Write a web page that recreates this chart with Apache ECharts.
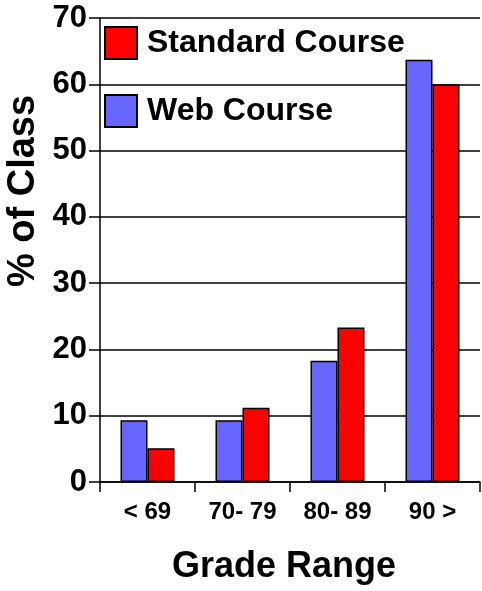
<!DOCTYPE html>
<html>
<head>
<meta charset="utf-8">
<script src="https://cdn.jsdelivr.net/npm/echarts@6/dist/echarts.min.js"></script>
<style>
html,body{margin:0;padding:0;background:#fff;}
#chart{width:482px;height:591px;}
</style>
</head>
<body>
<div id="chart"></div>
<script>
var categories = ['< 69', '70- 79', '80- 89', '90 >'];
var webCourse = [9.3, 9.3, 18.3, 63.7];
var standardCourse = [5.1, 11.2, 23.3, 60];
var yTicks = [0, 10, 20, 30, 40, 50, 60, 70];
var seriesNames = ['Web Course', 'Standard Course'];
var legendOrder = ['Standard Course', 'Web Course'];
var xAxisTitle = 'Grade Range';
var yAxisTitle = '% of Class';

var FONT = '"Liberation Sans", Arial, sans-serif';
var chart = echarts.init(document.getElementById('chart'), null, {renderer: 'canvas'});
chart.setOption({
  animation: false,
  backgroundColor: '#fff',
  grid: {left: 100, right: 2, top: 18, bottom: 109, containLabel: false},
  legend: {
    data: legendOrder,
    orient: 'vertical',
    left: 104,
    top: 26,
    padding: 0,
    icon: 'rect',
    itemWidth: 32,
    itemHeight: 32,
    itemGap: 34,
    textStyle: {fontFamily: FONT, fontWeight: 'bold', fontSize: 32, color: '#000', padding: [0, 0, 0, 5]}
  },
  xAxis: {
    type: 'category',
    data: categories,
    name: xAxisTitle,
    nameLocation: 'middle',
    nameGap: 67,
    nameTextStyle: {fontFamily: FONT, fontWeight: 'bold', fontSize: 36, color: '#000', padding: [0, 12, 0, 0]},
    axisLine: {lineStyle: {color: '#000', width: 1.5}},
    axisTick: {show: true, length: 10, lineStyle: {color: '#000', width: 1.5}},
    axisLabel: {fontFamily: FONT, fontWeight: 'bold', fontSize: 24, color: '#000', margin: 18}
  },
  yAxis: {
    type: 'value',
    min: 0,
    max: 70,
    interval: 10,
    axisLine: {show: true, lineStyle: {color: '#000', width: 1.5}},
    axisTick: {show: true, length: 11, lineStyle: {color: '#000', width: 1.5}},
    axisLabel: {fontFamily: FONT, fontWeight: 'bold', fontSize: 31, color: '#000', margin: 13,
      formatter: function (v) { return yTicks.indexOf(v) >= 0 ? String(v) : ''; }},
    splitLine: {show: true, lineStyle: {color: '#000', width: 1.5}}
  },
  graphic: [{
    type: 'text',
    x: 24,
    y: 191,
    rotation: Math.PI / 2,
    style: {
      text: yAxisTitle,
      fontFamily: FONT,
      fontWeight: 'bold',
      fontSize: 38,
      fill: '#000',
      align: 'center',
      verticalAlign: 'middle'
    }
  }],
  series: [
    {
      name: seriesNames[0],
      type: 'bar',
      data: webCourse,
      barWidth: 27,
      barGap: '0%',
      itemStyle: {color: '#6666FF', borderColor: '#000', borderWidth: 1.5}
    },
    {
      name: seriesNames[1],
      type: 'bar',
      data: standardCourse,
      barWidth: 27,
      barGap: '0%',
      itemStyle: {color: '#FF0000', borderColor: '#000', borderWidth: 1.5}
    }
  ]
});
</script>
</body>
</html>
